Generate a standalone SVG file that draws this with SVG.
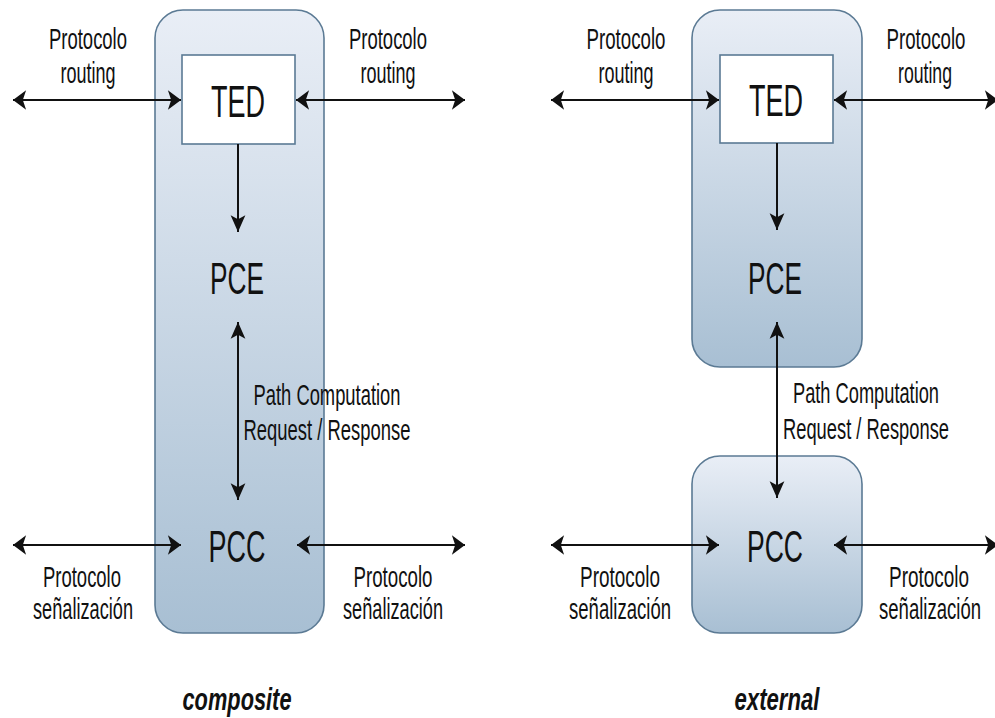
<svg xmlns="http://www.w3.org/2000/svg" width="995" height="718" viewBox="0 0 995 718">
  <style>
    .box { stroke: #5b7a94; stroke-width: 1.6; fill: url(#boxFill); }
    .ted { fill: #ffffff; stroke: #5b7a94; stroke-width: 1.6; }
    .conn { stroke: #111111; stroke-width: 2; fill: none; }
    .hb { marker-start: url(#headH); marker-end: url(#headH); }
    .v { marker-end: url(#headV); }
    .vb { marker-start: url(#headV); marker-end: url(#headV); }
    text { font-family: "Liberation Sans", Arial, sans-serif; fill: #111111; text-anchor: middle; }
    .lbl { font-size: 30px; }
    .big { font-size: 45px; }
    .pc { font-size: 29px; }
    .cap { font-size: 32px; font-weight: bold; font-style: italic; }
  </style>
  <defs>
    <linearGradient id="boxFill" x1="0" y1="0" x2="0" y2="1">
      <stop offset="0" stop-color="#e9eef6"/>
      <stop offset="1" stop-color="#a8bfd3"/>
    </linearGradient>
    <marker id="headH" markerUnits="userSpaceOnUse" markerWidth="20" markerHeight="24" viewBox="-14 -11 16 22" refX="0" refY="0" orient="auto-start-reverse">
      <path d="M0,0 L-12,-9 L-9,0 L-12,9 Z" fill="#111111"/>
    </marker>
    <marker id="headV" markerUnits="userSpaceOnUse" markerWidth="20" markerHeight="20" viewBox="-17 -9 19 18" refX="0" refY="0" orient="auto-start-reverse">
      <path d="M0,0 L-16,-7 L-12,0 L-16,7 Z" fill="#111111"/>
    </marker>
  </defs>

  <!-- composite: PCE and PCC inside one node -->
  <g id="composite-node">
    <rect class="box" x="155" y="10" width="169" height="623" rx="28"/>
  </g>
  <g id="composite-ted">
    <rect class="ted" x="182" y="55" width="113" height="89"/>
    <text class="big" x="238" y="117" textLength="54" lengthAdjust="spacingAndGlyphs">TED</text>
  </g>
  <g id="composite-pce">
    <text class="big" x="237" y="294" textLength="54" lengthAdjust="spacingAndGlyphs">PCE</text>
  </g>
  <g id="composite-pcc">
    <text class="big" x="237" y="562" textLength="57" lengthAdjust="spacingAndGlyphs">PCC</text>
  </g>

  <!-- external: PCE and PCC in separate nodes -->
  <g id="external-pce-node">
    <rect class="box" x="692" y="10" width="170" height="357" rx="28"/>
    <text class="big" x="775" y="294" textLength="54" lengthAdjust="spacingAndGlyphs">PCE</text>
  </g>
  <g id="external-ted">
    <rect class="ted" x="720" y="55" width="113" height="88"/>
    <text class="big" x="776" y="116" textLength="54" lengthAdjust="spacingAndGlyphs">TED</text>
  </g>
  <g id="external-pcc-node">
    <rect class="box" x="692" y="456" width="170" height="177" rx="28"/>
    <text class="big" x="775" y="562" textLength="56" lengthAdjust="spacingAndGlyphs">PCC</text>
  </g>

  <g id="connectors">
    <!-- composite -->
    <line class="conn hb" x1="13" y1="100" x2="181" y2="100"/>
    <line class="conn hb" x1="296" y1="100" x2="465" y2="100"/>
    <line class="conn v" x1="238" y1="144" x2="238" y2="232"/>
    <line class="conn vb" x1="238" y1="322" x2="238" y2="500"/>
    <line class="conn hb" x1="13" y1="545" x2="181" y2="545"/>
    <line class="conn hb" x1="297" y1="545" x2="465" y2="545"/>
    <!-- external -->
    <line class="conn hb" x1="551" y1="100" x2="719" y2="100"/>
    <line class="conn hb" x1="834" y1="100" x2="998" y2="100"/>
    <line class="conn v" x1="777" y1="143" x2="777" y2="230"/>
    <line class="conn vb" x1="777" y1="322" x2="777" y2="498"/>
    <line class="conn hb" x1="551" y1="545" x2="719" y2="545"/>
    <line class="conn hb" x1="834" y1="545" x2="998" y2="545"/>
  </g>

  <g id="labels">
    <text class="lbl" x="88" y="49" textLength="78" lengthAdjust="spacingAndGlyphs">Protocolo</text>
    <text class="lbl" x="88" y="83" textLength="55" lengthAdjust="spacingAndGlyphs">routing</text>
    <text class="lbl" x="388" y="49" textLength="78" lengthAdjust="spacingAndGlyphs">Protocolo</text>
    <text class="lbl" x="388" y="83" textLength="55" lengthAdjust="spacingAndGlyphs">routing</text>
    <text class="pc" x="327" y="405" textLength="147" lengthAdjust="spacingAndGlyphs">Path Computation</text>
    <text class="pc" x="327" y="440" textLength="167" lengthAdjust="spacingAndGlyphs">Request / Response</text>
    <text class="lbl" x="82" y="587" textLength="78" lengthAdjust="spacingAndGlyphs">Protocolo</text>
    <text class="lbl" x="83" y="619" textLength="100" lengthAdjust="spacingAndGlyphs">señalización</text>
    <text class="lbl" x="393" y="587" textLength="79" lengthAdjust="spacingAndGlyphs">Protocolo</text>
    <text class="lbl" x="393" y="619" textLength="100" lengthAdjust="spacingAndGlyphs">señalización</text>
    <text class="cap" x="237" y="710" textLength="109" lengthAdjust="spacingAndGlyphs">composite</text>

    <text class="lbl" x="626" y="49" textLength="79" lengthAdjust="spacingAndGlyphs">Protocolo</text>
    <text class="lbl" x="626" y="83" textLength="55" lengthAdjust="spacingAndGlyphs">routing</text>
    <text class="lbl" x="926" y="49" textLength="79" lengthAdjust="spacingAndGlyphs">Protocolo</text>
    <text class="lbl" x="925" y="83" textLength="54" lengthAdjust="spacingAndGlyphs">routing</text>
    <text class="pc" x="866" y="403" textLength="146" lengthAdjust="spacingAndGlyphs">Path Computation</text>
    <text class="pc" x="866" y="439" textLength="166" lengthAdjust="spacingAndGlyphs">Request / Response</text>
    <text class="lbl" x="620" y="587" textLength="80" lengthAdjust="spacingAndGlyphs">Protocolo</text>
    <text class="lbl" x="620" y="619" textLength="102" lengthAdjust="spacingAndGlyphs">señalización</text>
    <text class="lbl" x="929" y="587" textLength="80" lengthAdjust="spacingAndGlyphs">Protocolo</text>
    <text class="lbl" x="930" y="619" textLength="102" lengthAdjust="spacingAndGlyphs">señalización</text>
    <text class="cap" x="777" y="710" textLength="85" lengthAdjust="spacingAndGlyphs">external</text>
  </g>
</svg>
